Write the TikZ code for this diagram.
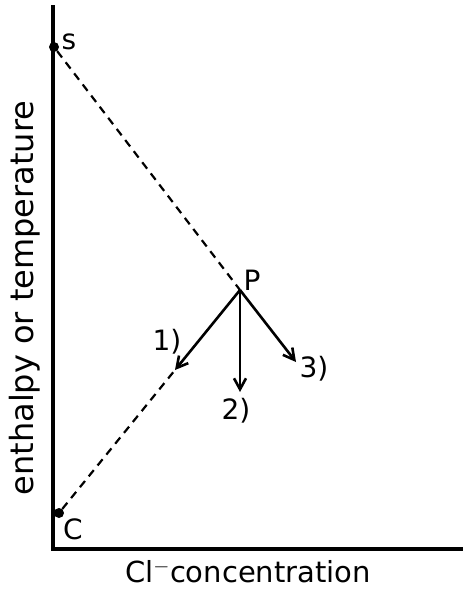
\documentclass[tikz,border=0pt]{standalone}
\usepackage{fontspec}
\setmainfont{DejaVu Sans}
\usetikzlibrary{arrows.meta}
\begin{document}
\begin{tikzpicture}[x=1pt,y=-1pt,
  axis/.style={line width=4.2pt},
  mix/.style={line width=2.2pt,dash pattern=on 8pt off 6pt},
  proc/.style={line width=2.6pt,-{Straight Barb[length=11pt,width=12pt,line width=2.6pt]}},
  lab/.style={inner sep=0pt,font=\fontsize{28}{28}\selectfont},
  dot/.style={circle,fill=black,inner sep=0pt,minimum size=10pt}]
\useasboundingbox (0,0) rectangle (463,589);
\coordinate (top) at (53,5);
\coordinate (origin) at (53,549);
\coordinate (right) at (463,549);
\node[dot] (S) at (54,47) {};
\node[dot] (C) at (59,513) {};
\coordinate (P) at (240,290);
\coordinate (t1) at (175,370);
\coordinate (t2) at (240,392);
\coordinate (t3) at (296,362);
\draw[axis] (top) -- (origin) -- (right);
\draw[mix] (S) -- (P);
\draw[mix] (C) -- (t1);
\draw[proc] (P) -- (t1);
\draw[proc] (P) -- (t2);
\draw[proc] (P) -- (t3);
\node[lab] (Sl) at (69,42) {s};
\node[lab] (Cl) at (73,529) {C};
\node[lab] (Pl) at (252,280) {P};
\node[lab] (l1) at (167,342) {1)};
\node[lab] (l2) at (236,411) {2)};
\node[lab] (l3) at (314,369) {3)};
\node[lab,font=\fontsize{32}{32}\selectfont,rotate=90,anchor=base] (yl) at (34,298) {enthalpy or temperature};
\node[lab,font=\fontsize{29}{29}\selectfont,anchor=base] (xl) at (248,582) {Cl$^{-}$concentration};
\end{tikzpicture}
\end{document}
